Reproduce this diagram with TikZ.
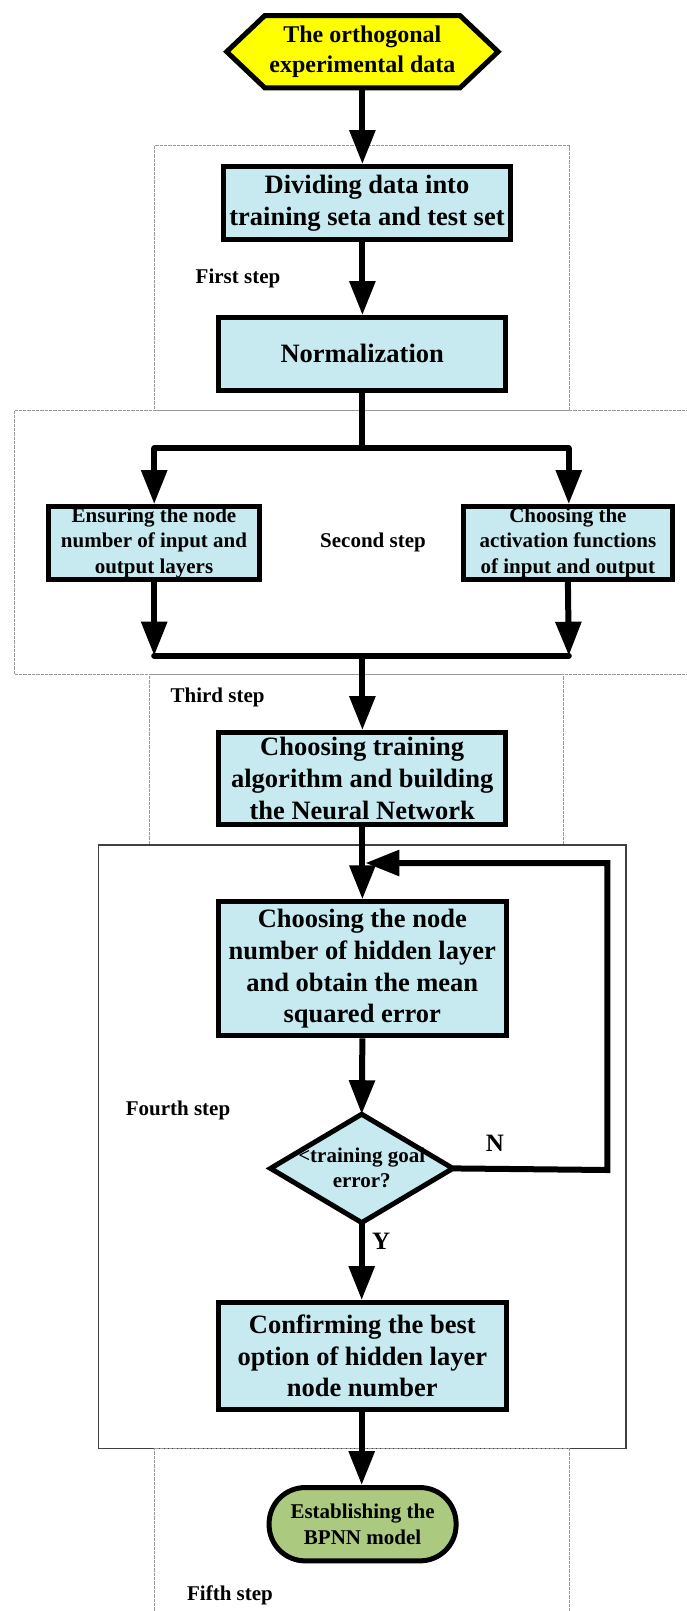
\documentclass[tikz,border=0pt]{standalone}
\usepackage{fontspec}
\setmainfont{Liberation Serif}
\usetikzlibrary{arrows.meta}
\definecolor{boxblue}{RGB}{198,234,240}
\definecolor{ovalgreen}{RGB}{171,201,127}
\definecolor{hexyellow}{RGB}{255,255,0}
\tikzset{
  proc/.style={draw, line width=5pt, fill=boxblue, align=center, inner sep=0pt,
    font=\bfseries\fontsize{26.5}{31.7}\selectfont},
  procsm/.style={proc, font=\bfseries\fontsize{21}{25.8}\selectfont},
  lbl/.style={inner sep=0pt, font=\bfseries\fontsize{21}{25}\selectfont},
  yn/.style={inner sep=0pt, font=\bfseries\fontsize{25}{30}\selectfont},
  arr/.style={line width=6pt, -{Triangle[length=34pt,width=25pt]}},
  ln/.style={line width=6pt, line cap=round},
  region/.style={draw=gray!80, line width=1pt, dash pattern=on 0.8pt off 0.5pt},
  regionsolid/.style={draw=black!75, line width=1.2pt},
}
\begin{document}
\begin{tikzpicture}[x=1pt, y=-1pt]
\useasboundingbox (0,0) rectangle (687,1611);

% step regions
\draw[region] (154.3,145.7) rectangle (569.7,410.7);
\draw[region] (14.5,410.7) rectangle (692,674.3);
\draw[region] (149,674.3) rectangle (563,844);
\draw[regionsolid] (98.2,845) rectangle (625.9,1448.3);
\draw[region] (569.7,1620) -- (569.7,1448.3) -- (154.7,1448.3) -- (154.7,1620);

% hexagon start node
\node[inner sep=0pt, minimum width=271pt, minimum height=71.7pt,
  font=\bfseries\fontsize{24}{30.7}\selectfont, align=center] (hex) at (362.4,51.7)
  {\phantom{The orthogonal}\\\phantom{experimental data}};
\draw[line width=5pt, fill=hexyellow, line join=miter]
  (hex.west) -- ([xshift=38pt]hex.north west) -- ([xshift=-38pt]hex.north east)
  -- (hex.east) -- ([xshift=-38pt]hex.south east) -- ([xshift=38pt]hex.south west) -- cycle;
\node[inner sep=0pt, font=\bfseries\fontsize{24}{30.7}\selectfont, align=center]
  (hextext) at (hex.center) {The orthogonal\\experimental data};

% process boxes
\node[proc, minimum width=286.4pt, minimum height=72.7pt] (div) at (367,202.9)
  {Dividing data into\\training seta and test set};
\node[proc, minimum width=287.3pt, minimum height=72.7pt] (norm) at (362.2,353.9)
  {Normalization};
\node[procsm, minimum width=211pt, minimum height=72.7pt] (lbox) at (154,542.9)
  {Ensuring the node\\number of input and\\output layers};
\node[procsm, minimum width=208.8pt, minimum height=72.7pt] (rbox) at (567.9,542.9)
  {Choosing the\\activation functions\\of input and output};
\node[proc, minimum width=287.3pt, minimum height=91.7pt] (train) at (362.2,778.4)
  {Choosing training\\algorithm and building\\the Neural Network};
\node[proc, minimum width=288.5pt, minimum height=134pt] (hid) at (362.3,968.8)
  {Choosing the node\\number of hidden layer\\and obtain the mean\\squared error};

% decision diamond
\node[inner sep=0pt, minimum width=182pt, minimum height=108pt] (dia) at (361.7,1168.4) {};
\draw[line width=5pt, fill=boxblue, line join=miter]
  (dia.north) -- (dia.east) -- (dia.south) -- (dia.west) -- cycle;
\node[inner sep=0pt, font=\bfseries\fontsize{21}{25}\selectfont, align=center]
  (diatext) at ([yshift=1pt]dia.center) {<training goal\\error?};

\node[proc, minimum width=288.5pt, minimum height=106.7pt] (conf) at (362.3,1355.9)
  {Confirming the best\\option of hidden layer\\node number};
\node[procsm, fill=ovalgreen, rounded corners=36pt, minimum width=187pt, minimum height=73.3pt,
  font=\bfseries\fontsize{21}{26.7}\selectfont] (oval) at (362.6,1524.2)
  {Establishing the\\BPNN model};

% step labels
\node[lbl] (l1) at (238,278) {First step};
\node[lbl] (l2) at (373,542.7) {Second step};
\node[lbl] (l3) at (217.6,697.7) {Third step};
\node[lbl] (l4) at (178,1110) {Fourth step};
\node[lbl] (l5) at (230,1595) {Fifth step};

% junction coordinates
\coordinate (split) at (362.4,448.3);
\coordinate (bl) at (154.2,448.3);
\coordinate (br) at (568.8,448.3);
\coordinate (jl) at (154.2,655.7);
\coordinate (jr) at (568.8,655.7);
\coordinate (jm) at (362.4,655.7);
\coordinate (fcorner) at (607.3,1170);
\coordinate (ftop) at (607.3,863);
\coordinate (fend) at (365.4,863);

% connectors
\draw[arr] (hex.south) -- (hex.south |- div.north);
\draw[arr] (div.south -| hex.south) -- (norm.north -| hex.south);
\draw[ln, line cap=butt] (norm.south -| split) -- (split);
\draw[ln] (bl) -- (br);
\draw[arr] (bl) -- (bl |- lbox.north);
\draw[arr] (br) -- (br |- rbox.north);
\draw[arr] (lbox.south -| jl) -- (jl);
\draw[arr] (rbox.south) -- (jr);
\draw[ln] (jl) -- (jr);
\draw[arr] (jm) -- (jm |- train.north);
\draw[arr] (train.south -| jm) -- (hid.north -| jm);
\draw[arr] (hid.south -| jm) -- (dia.north);
\draw[arr, line join=miter] (dia.east) -- (fcorner) -- (ftop) -- (fend);
\draw[arr] (dia.south) -- (conf.north -| dia.south);
\draw[arr] (conf.south -| dia.south) -- (oval.north -| dia.south);

\node[yn] (nlab) at (495,1143.3) {N};
\node[yn] (ylab) at (381.2,1241.7) {Y};
\end{tikzpicture}
\end{document}
